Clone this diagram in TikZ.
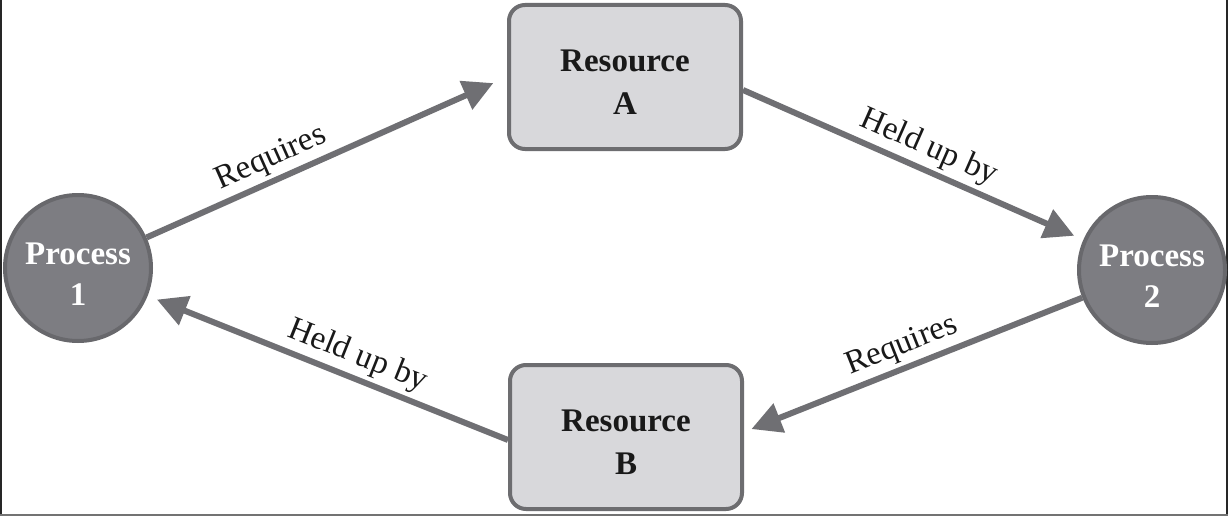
\documentclass[tikz,border=0pt]{standalone}
\usepackage{fontspec}
\setmainfont{Liberation Serif}
\usetikzlibrary{arrows.meta}
\definecolor{procfill}{HTML}{7D7D82}
\definecolor{procdraw}{HTML}{68686C}
\definecolor{resfill}{HTML}{D8D8DB}
\definecolor{resdraw}{HTML}{6D6D70}
\definecolor{arrcol}{HTML}{6F6F73}
\newcommand{\lowlines}[2]{\raisebox{-#1}[\height][\depth]{\begin{tabular}{@{}c@{}}#2\end{tabular}}}
\tikzset{
  procnode/.style={circle, fill=procfill, draw=procdraw, line width=4pt,
    minimum size=146pt, inner sep=0pt, text=white,
    font=\fontsize{33}{41}\selectfont\bfseries},
  resnode/.style={rectangle, rounded corners=16pt, fill=resfill, draw=resdraw,
    line width=4pt, minimum width=232pt, minimum height=144pt,
    text=black!90, font=\fontsize{33}{43}\selectfont\bfseries},
  arr/.style={draw=arrcol, line width=6pt, -{Triangle[length=30pt,width=30pt]}},
  lbl/.style={sloped, above, font=\fontsize{33}{38}\selectfont, text=black!90, inner sep=4pt}
}
\begin{document}
\begin{tikzpicture}[x=1pt,y=-1pt]
\useasboundingbox (0,0) rectangle (1228,516);
\fill[white] (0,0) rectangle (1228,516);
\draw[line width=2pt, black!85] (1,0) -- (1,516);
\draw[line width=2pt, black!85] (1227,0) -- (1227,516);
\draw[line width=2pt, black!55] (0,515) -- (1228,515);

\node[procnode] (p1) at (78,268) {\lowlines{9pt}{Process\\1}};
\node[procnode] (p2) at (1152,270) {\lowlines{9pt}{Process\\2}};
\node[resnode] (ra) at (625,77) {\lowlines{7pt}{Resource\\A}};
\node[resnode] (rb) at (626,437) {\lowlines{7pt}{Resource\\B}};

\draw[arr, shorten >=15pt] (p1) -- (ra.west)
  node[lbl, pos=0.37] {Requires};
\draw[arr, shorten >=10pt] ([yshift=-13pt]ra.east) -- (p2)
  node[lbl, pos=0.52] {Held up by};
\draw[arr, shorten >=8pt] (p2) -- ([yshift=5pt]rb.east)
  node[lbl, pos=0.51] {Requires};
\draw[arr, shorten >=10pt] ([yshift=-3pt]rb.west) -- (p1)
  node[lbl, pos=0.44] {Held up by};
\end{tikzpicture}
\end{document}
